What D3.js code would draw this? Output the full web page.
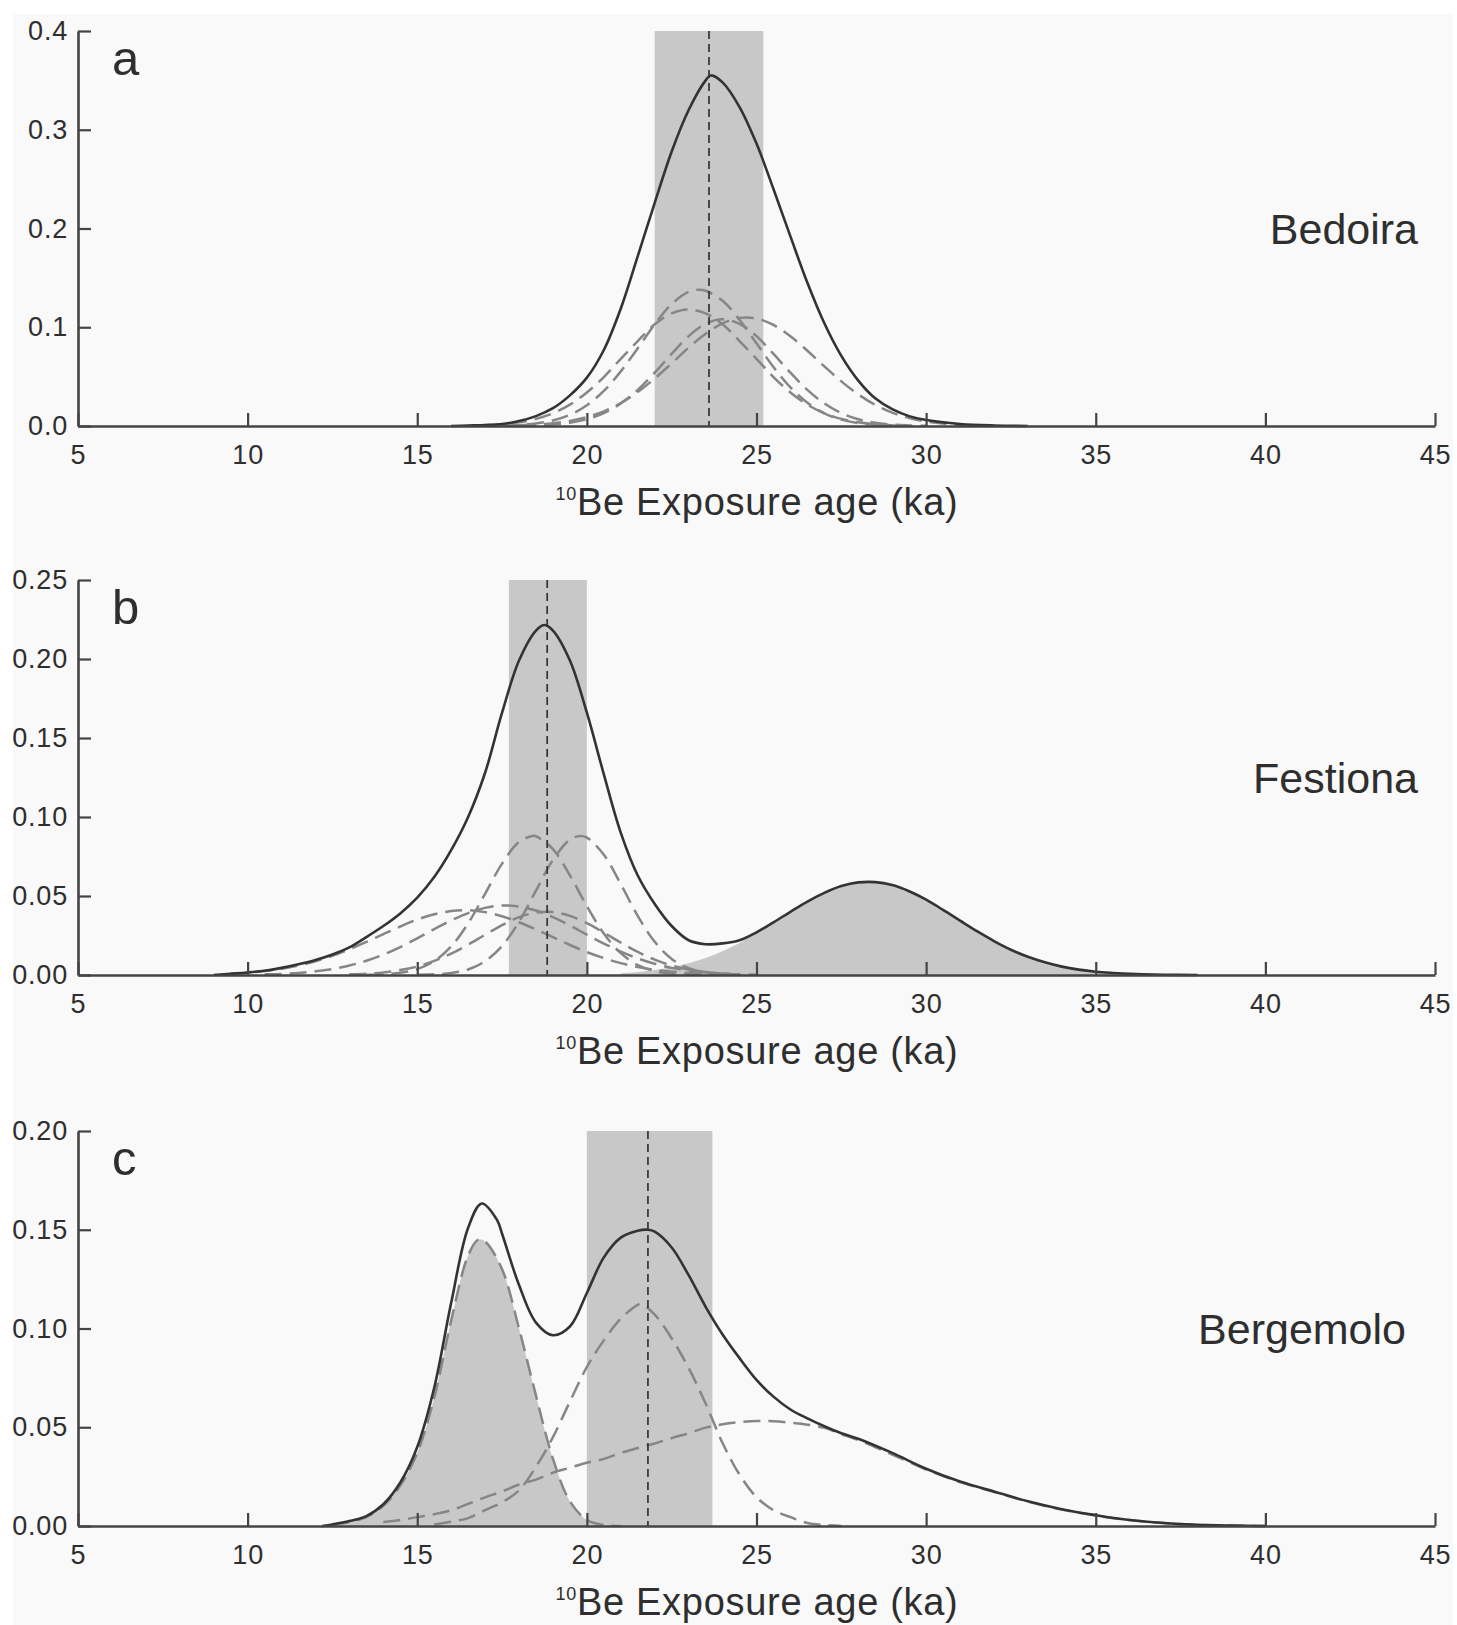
<!DOCTYPE html>
<html><head><meta charset="utf-8">
<script src="https://cdn.jsdelivr.net/npm/d3@7"></script>
<style>
body{margin:0;background:#fff}
text{font-family:"Liberation Sans",Arial,Helvetica,sans-serif}
</style>
</head><body>
<svg id="chart" width="1457" height="1625"></svg>
<script>
// ---------------- data ----------------
const xTicks = [5, 10, 15, 20, 25, 30, 35, 40, 45];
const panelLetters = ["a", "b", "c"];
const siteNames = ["Bedoira", "Festiona", "Bergemolo"];
const yMaxima = [0.4, 0.25, 0.20];
const yTickValues = [[0, 0.1, 0.2, 0.3, 0.4], [0, 0.05, 0.10, 0.15, 0.20, 0.25], [0, 0.05, 0.10, 0.15, 0.20]];
const yTickDecimals = [1, 2, 2];
const meanAges = [23.6, 18.83, 21.8];
const bandRanges = [[22.0, 25.2], [17.7, 20.0], [20.0, 23.7]];
const axisTitleSup = "10";
const axisTitleMain = "Be Exposure age (ka)";

// panel a: Bedoira
const bedoiraSum = [[16,0],[16.5,0.0005],[17,0.001],[17.5,0.002],[18,0.005],[18.5,0.01],[19,0.018],[19.5,0.031],[20,0.049],[20.5,0.077],[21,0.119],[21.5,0.172],[22,0.226],[22.5,0.278],[23,0.32],[23.5,0.35],[23.65,0.355],[24,0.348],[24.5,0.323],[25,0.286],[25.5,0.24],[26,0.192],[26.5,0.145],[27,0.104],[27.5,0.071],[28,0.046],[28.5,0.028],[29,0.017],[29.5,0.01],[30,0.006],[31,0.002],[32,0.0005],[33,0]];
const bedoiraS1 = [[17.5,.0004],[18,.0011],[18.5,.0026],[19,.0056],[19.5,.0113],[20,.021],[20.5,.0355],[21,.0553],[21.5,.0788],[22,.103],[22.5,.1235],[23,.1359],[23.3,.138],[23.5,.137],[24,.1268],[24.5,.1076],[25,.0837],[25.5,.0597],[26,.0391],[26.5,.0235],[27,.0129],[27.5,.0065],[28,.003],[28.5,.0013],[29,.0005],[29.5,.0002]];
const bedoiraS2 = [[17,.0008],[17.5,.0018],[18,.0037],[18.5,.0072],[19,.0129],[19.5,.0216],[20,.034],[20.5,.0496],[21,.068],[21.5,.086],[22,.103],[22.5,.114],[23,.118],[23.5,.114],[24,.103],[24.5,.086],[25,.068],[25.5,.0496],[26,.034],[26.5,.0216],[27,.0129],[27.5,.0072],[28,.0037],[28.5,.0018],[29,.0008]];
const bedoiraS3 = [[18,.0002],[18.5,.0006],[19,.0014],[19.5,.0033],[20,.0068],[20.5,.013],[21,.0228],[21.5,.0366],[22,.054],[22.5,.073],[23,.091],[23.5,.1035],[24,.108],[24.5,.1035],[25,.091],[25.5,.073],[26,.054],[26.5,.0366],[27,.0228],[27.5,.013],[28,.0068],[28.5,.0033],[29,.0014],[29.5,.0006],[30,.0002]];
const bedoiraS4 = [[18,.0007],[18.5,.0014],[19,.0028],[19.5,.0051],[20,.009],[20.5,.0149],[21,.0233],[21.5,.0345],[22,.0481],[22.5,.0635],[23,.0793],[23.5,.0934],[24,.104],[24.5,.1095],[25,.1089],[25.5,.1023],[26,.0908],[26.5,.0762],[27,.0604],[27.5,.0452],[28,.032],[28.5,.0214],[29,.0135],[29.5,.0081],[30,.0046],[30.5,.0024],[31,.0012],[31.5,.0006],[32,.0003]];

// panel b: Festiona
const festionaSum = [[9,0],[9.5,.0008],[10,.0016],[10.5,.0027],[11,.0045],[11.5,.0068],[12,.0095],[12.5,.013],[13,.0175],[13.5,.024],[14,.031],[14.5,.039],[15,.049],[15.5,.062],[16,.079],[16.5,.1],[17,.128],[17.5,.166],[18,.199],[18.5,.218],[18.75,.2215],[19,.218],[19.5,.199],[20,.166],[20.5,.127],[21,.09],[21.5,.063],[22,.045],[22.5,.031],[23,.022],[23.5,.0195],[24,.02],[24.5,.022],[25,.027],[25.5,.0333],[26,.04],[26.5,.0465],[27,.052],[27.5,.0563],[28,.0586],[28.5,.0588],[29,.0569],[29.5,.053],[30,.0477],[30.5,.0412],[31,.0344],[31.5,.0277],[32,.0215],[32.5,.016],[33,.0115],[33.5,.008],[34,.0053],[34.5,.0034],[35,.0021],[35.5,.0013],[36,.0007],[37,.0002],[38,0]];
const festionaS1 = [[9.5,.0009],[10,.0015],[10.5,.0025],[11,.004],[11.5,.006],[12,.0087],[12.5,.0121],[13,.0163],[13.5,.0209],[14,.0259],[14.5,.0307],[15,.0351],[15.5,.0384],[16,.0405],[16.5,.041],[17,.0398],[17.5,.0372],[18,.0334],[18.5,.0288],[19,.0239],[19.5,.019],[20,.0145],[20.5,.0107],[21,.0075],[21.5,.0051],[22,.0033],[22.5,.0021],[23,.0013],[23.5,.0007],[24,.0004]];
const festionaS2 = [[10.5,.0004],[11,.0007],[11.5,.0013],[12,.0023],[12.5,.0038],[13,.006],[13.5,.009],[14,.0129],[14.5,.0177],[15,.0232],[15.5,.029],[16,.0345],[16.5,.0392],[17,.0425],[17.5,.044],[18,.0433],[18.5,.0408],[19,.0366],[19.5,.0313],[20,.0255],[20.5,.0199],[21,.0148],[21.5,.0105],[22,.0071],[22.5,.0045],[23,.0028],[23.5,.0016],[24,.0009],[24.5,.0005]];
const festionaS3 = [[13,.0004],[13.5,.0008],[14,.0016],[14.5,.0031],[15,.0054],[15.5,.0089],[16,.0135],[16.5,.0192],[17,.0255],[17.5,.0316],[18,.0366],[18.5,.0395],[19,.0398],[19.5,.0374],[20,.0328],[20.5,.0268],[21,.0205],[21.5,.0146],[22,.0097],[22.5,.006],[23,.0035],[23.5,.0019],[24,.0009],[24.5,.0004],[25,.0002]];
const festionaS4 = [[13.5,.0001],[14,.0004],[14.5,.0014],[15,.0037],[15.5,.0088],[16,.0181],[16.5,.0327],[17,.0514],[17.5,.0705],[18,.0842],[18.4,.088],[18.5,.0878],[19,.0797],[19.5,.0631],[20,.0436],[20.5,.0262],[21,.0138],[21.5,.0063],[22,.0025],[22.5,.0009],[23,.0003],[23.5,.0001]];
const festionaS5 = [[15,.0001],[15.5,.0004],[16,.0012],[16.5,.0035],[17,.0087],[17.5,.0184],[18,.0337],[18.5,.0534],[19,.0728],[19.5,.0857],[19.8,.088],[20,.087],[20.5,.0761],[21,.0575],[21.5,.0374],[22,.021],[22.5,.0102],[23,.0043],[23.5,.0015],[24,.0005],[24.5,.0001]];
const festionaOutlier = [[21,.0011],[21.5,.0019],[22,.0031],[22.5,.0049],[23,.0074],[23.5,.0107],[24,.015],[24.5,.0203],[25,.0264],[25.5,.033],[26,.0399],[26.5,.0464],[27,.052],[27.5,.0563],[28,.0586],[28.5,.0588],[29,.0569],[29.5,.053],[30,.0477],[30.5,.0412],[31,.0344],[31.5,.0277],[32,.0215],[32.5,.016],[33,.0115],[33.5,.008],[34,.0053],[34.5,.0034],[35,.0021],[35.5,.0013],[36,.0007],[37,.0002],[38,0]];

// panel c: Bergemolo
const bergemoloSum = [[12.2,0],[12.5,.0008],[13,.0025],[13.5,.005],[14,.011],[14.5,.022],[15,.04],[15.5,.07],[16,.113],[16.5,.151],[16.9,.1633],[17.35,.155],[17.5,.148],[18,.122],[18.5,.103],[19,.0966],[19.5,.101],[20,.118],[20.5,.136],[21,.146],[21.5,.1495],[21.8,.150],[22,.149],[22.5,.141],[23,.127],[23.5,.111],[24,.097],[24.5,.085],[25,.074],[25.5,.0655],[26,.059],[26.5,.0545],[27,.0505],[27.5,.047],[28,.0442],[29,.037],[30,.029],[31,.0225],[32,.0175],[33,.0125],[34,.0085],[35,.0055],[36,.003],[37,.0015],[38,.0006],[39,.0002],[40,0]];
const bergemoloS1 = [[15.5,.0008],[16,.0022],[16.5,.004],[17,.008],[17.5,.012],[18,.018],[18.5,.03],[19,.045],[19.5,.063],[20,.0805],[20.5,.094],[21,.105],[21.5,.112],[21.6,.1125],[22,.107],[22.5,.095],[23,.08],[23.5,.062],[24,.042],[24.5,.026],[25,.0146],[25.5,.008],[26,.0045],[26.5,.0015],[27,.0005],[27.5,0]];
const bergemoloS2 = [[14,.002],[14.5,.003],[15,.0045],[15.5,.006],[16,.008],[16.5,.0112],[17,.0145],[17.5,.0175],[18,.021],[18.5,.0235],[19,.027],[19.5,.0295],[20,.032],[20.5,.034],[21,.037],[21.5,.0395],[22,.0418],[22.5,.0445],[23,.047],[23.5,.0498],[24,.0515],[24.5,.0526],[25,.0532],[25.5,.053],[26,.0523],[26.5,.0513],[27,.0497],[27.5,.0465],[28,.0435],[29,.0362],[30,.0286],[31,.0222],[32,.0172],[33,.0123],[34,.0083],[35,.0053],[36,.003],[37,.0015],[38,.0006],[39,.0002],[40,0]];
const bergemoloOutlier = [[12.5,.0006],[13,.002],[13.5,.0045],[14,.0102],[14.5,.0205],[15,.037],[15.5,.065],[16,.104],[16.5,.137],[16.8,.145],[17,.144],[17.5,.13],[18,.1],[18.5,.066],[19,.034],[19.5,.0125],[20,.003],[20.5,.0005],[21,0]];

// ---------------- drawing ----------------
const panels = [
  {sum: bedoiraSum, samples: [bedoiraS1, bedoiraS2, bedoiraS3, bedoiraS4], outlier: null, outlierDashed: false},
  {sum: festionaSum, samples: [festionaS1, festionaS2, festionaS3, festionaS4, festionaS5], outlier: festionaOutlier, outlierDashed: false},
  {sum: bergemoloSum, samples: [bergemoloS1, bergemoloS2], outlier: bergemoloOutlier, outlierDashed: true}
];

const W = 1457, H = 1625;
const svg = d3.select("#chart");
svg.append("rect").attr("width", W).attr("height", H).attr("fill", "#ffffff");
svg.append("rect").attr("x", 13).attr("y", 14).attr("width", 1440).attr("height", 1611).attr("fill", "#f9f9f9");

const left = 78, right = 1435, plotH = 395;
const tops = [31, 580, 1131];
const nameRight = [1418, 1418, 1406];
const textColor = "#2e2e2e", axisColor = "#444444", fillGray = "#c8c8c8";

const x = d3.scaleLinear().domain([5, 45]).range([left, right]);
const curve = d3.curveCatmullRom.alpha(0.5);

panels.forEach((p, i) => {
  const top = tops[i], bottom = top + plotH;
  const y = d3.scaleLinear().domain([0, yMaxima[i]]).range([bottom, top]);
  const g = svg.append("g");
  const line = d3.line().x(d => x(d[0])).y(d => Math.min(y(0), y(d[1]))).curve(curve);
  const area = d3.area().x(d => x(d[0])).y0(y(0)).y1(d => Math.min(y(0), y(d[1]))).curve(curve);

  // grey band
  g.append("rect")
    .attr("x", x(bandRanges[i][0])).attr("y", y(yMaxima[i]))
    .attr("width", x(bandRanges[i][1]) - x(bandRanges[i][0]))
    .attr("height", y(0) - y(yMaxima[i]))
    .attr("fill", fillGray);

  // outlier fill
  if (p.outlier) {
    g.append("path").datum(p.outlier).attr("d", area).attr("fill", fillGray);
  }

  // dashed individual curves
  const dashed = p.outlierDashed ? p.samples.concat([p.outlier]) : p.samples;
  g.selectAll("path.comp").data(dashed).join("path")
    .attr("class", "comp")
    .attr("d", line)
    .attr("fill", "none")
    .attr("stroke", "#868686")
    .attr("stroke-width", 2.5)
    .attr("stroke-dasharray", "17,8");

  // mean line
  g.append("line")
    .attr("x1", x(meanAges[i])).attr("x2", x(meanAges[i]))
    .attr("y1", y(yMaxima[i])).attr("y2", y(0))
    .attr("stroke", "#333").attr("stroke-width", 1.7).attr("stroke-dasharray", "8,5");

  // summed curve
  g.append("path").datum(p.sum).attr("d", line)
    .attr("fill", "none").attr("stroke", "#333").attr("stroke-width", 2.6);

  // axes
  const ya = d3.axisLeft(y).tickValues(yTickValues[i])
    .tickFormat(d3.format("." + yTickDecimals[i] + "f"))
    .tickSizeInner(-13).tickSizeOuter(0).tickPadding(10);
  const yg = g.append("g").attr("transform", `translate(${left},0)`).call(ya);
  const xa = d3.axisBottom(x).tickValues(xTicks).tickFormat(d3.format("d"))
    .tickSizeInner(-13).tickSizeOuter(0).tickPadding(19);
  const xg = g.append("g").attr("transform", `translate(0,${bottom})`).call(xa);
  [yg, xg].forEach(a => {
    a.attr("font-size", null).attr("font-family", null);
    a.select(".domain").attr("stroke", axisColor).attr("stroke-width", 2.6);
    a.selectAll(".tick line").attr("stroke", axisColor).attr("stroke-width", 2.2);
    a.selectAll(".tick text").attr("fill", textColor).attr("font-size", 27)
      .attr("letter-spacing", "0.8px");
  });

  // panel letter
  g.append("text").attr("x", 112).attr("y", top + 44)
    .attr("font-size", 49).attr("fill", textColor).text(panelLetters[i]);

  // site name
  g.append("text").attr("x", nameRight[i]).attr("y", top + plotH / 2 + 15)
    .attr("text-anchor", "end").attr("font-size", 43).attr("fill", textColor)
    .text(siteNames[i]);

  // axis title
  const t = g.append("text").attr("x", 757).attr("y", bottom + 89)
    .attr("text-anchor", "middle").attr("font-size", 38).attr("fill", textColor)
    .attr("letter-spacing", "0.7px");
  t.append("tspan").attr("font-size", 18).attr("dy", -15).text(axisTitleSup);
  t.append("tspan").attr("dy", 15).text(axisTitleMain);
});
</script>
</body></html>
